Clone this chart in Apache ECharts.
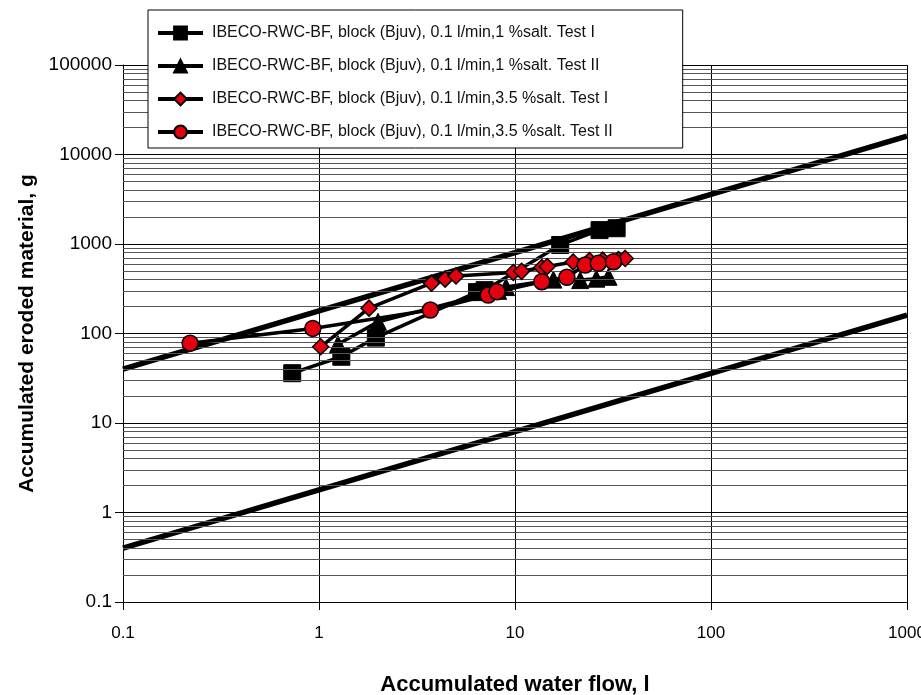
<!DOCTYPE html>
<html>
<head>
<meta charset="utf-8">
<script src="https://cdn.jsdelivr.net/npm/echarts@6/dist/echarts.min.js"></script>
<style>
  html, body { margin: 0; padding: 0; background: #fff; }
  #chart { width: 921px; height: 695px; }
</style>
</head>
<body>
<div id="chart"></div>
<script>
// Series names
const names = [
  'IBECO-RWC-BF, block (Bjuv), 0.1 l/min,1 %salt. Test I',
  'IBECO-RWC-BF, block (Bjuv), 0.1 l/min,1 %salt. Test II',
  'IBECO-RWC-BF, block (Bjuv), 0.1 l/min,3.5 %salt. Test I',
  'IBECO-RWC-BF, block (Bjuv), 0.1 l/min,3.5 %salt. Test II'
];

// 1 % salt, Test I (accumulated water flow l, eroded material g)
const flow1I = [0.73, 1.3, 1.95, 6.4, 7.0, 17, 27, 33];
const mass1I = [36, 55, 90, 290, 305, 975, 1430, 1500];

// 1 % salt, Test II
const flow1II = [1.25, 2.0, 8.2, 9.0, 15.7, 21.5, 26, 30];
const mass1II = [76, 135, 300, 330, 400, 395, 410, 430];

// 3.5 % salt, Test I
const flow35I = [1.02, 1.8, 3.75, 4.4, 5.0, 9.8, 10.8, 13.7, 14.6, 19.8, 24, 28, 33.7, 36.5];
const mass35I = [71, 192, 365, 405, 440, 480, 495, 545, 560, 630, 655, 660, 670, 690];

// 3.5 % salt, Test II
const flow35II = [0.22, 0.93, 3.7, 7.3, 8.1, 13.7, 18.4, 22.8, 26.6, 31.8];
const mass35II = [78, 114, 183, 269, 293, 379, 425, 582, 608, 634];

// Boundary lines (end points)
const boundFlow = [0.1, 1000];
const upperMass = [40, 16000];
const lowerMass = [0.4, 160];

// Axis ranges / tick values
const xMin = 0.1, xMax = 1000;
const yMin = 0.1, yMax = 100000;
const yDecades = [0.1, 1, 10, 100, 1000, 10000, 100000];

const pairs = (xs, ys) => xs.map((x, i) => [x, ys[i]]);

// Minor grid values 2..9 within each decade
const minorValues = [];
for (let d = 0; d < yDecades.length - 1; d++) {
  for (let m = 2; m <= 9; m++) minorValues.push(+(yDecades[d] * m).toPrecision(6));
}

const FONT = '"Liberation Sans", Arial, sans-serif';
const RED = '#e3000f';

const chart = echarts.init(document.getElementById('chart'), null, { renderer: 'canvas' });

const lineStyle = { color: '#000', width: 3.5 };

chart.setOption({
  animation: false,
  backgroundColor: '#fff',
  textStyle: { fontFamily: FONT },
  grid: { left: 123, right: 14, top: 65, bottom: 93, containLabel: false, outerBoundsMode: 'none' },
  legend: {
    data: names,
    orient: 'vertical',
    left: 148,
    top: 10,
    z: 20,
    backgroundColor: '#fff',
    borderColor: '#000',
    borderWidth: 1,
    borderRadius: 0,
    padding: [15, 70, 8, 8],
    itemWidth: 45,
    itemHeight: 16,
    itemGap: 17,
    lineStyle: { width: 4, color: '#000' },
    textStyle: { fontFamily: FONT, fontSize: 16, color: '#111', padding: [0, 0, 0, 4] }
  },
  xAxis: {
    type: 'log',
    logBase: 10,
    min: xMin,
    max: xMax,
    name: 'Accumulated water flow, l',
    nameLocation: 'middle',
    nameGap: 72,
    nameTextStyle: { fontFamily: FONT, fontSize: 22, fontWeight: 'bold', color: '#000' },
    axisLine: { show: true, lineStyle: { color: '#000', width: 1 } },
    axisTick: { show: true, length: 8, lineStyle: { color: '#000' } },
    axisLabel: { fontFamily: FONT, fontSize: 17, color: '#000', margin: 23,
      formatter: v => String(v) },
    splitLine: { show: true, lineStyle: { color: '#000', width: 1 } }
  },
  yAxis: {
    type: 'log',
    logBase: 10,
    min: yMin,
    max: yMax,
    name: 'Accumulated eroded material, g',
    nameLocation: 'middle',
    nameGap: 77,
    nameTextStyle: { fontFamily: FONT, fontSize: 21, fontWeight: 'bold', color: '#000' },
    axisLine: { show: true, lineStyle: { color: '#000', width: 1 } },
    axisTick: { show: true, length: 8, lineStyle: { color: '#000' } },
    axisLabel: { fontFamily: FONT, fontSize: 19, color: '#000', margin: 11,
      formatter: v => String(v) },
    splitLine: { show: true, lineStyle: { color: '#000', width: 1 } }
  },
  series: [
    {
      // minor horizontal grid lines
      type: 'line',
      data: [],
      silent: true,
      z: 1,
      markLine: {
        silent: true,
        symbol: ['none', 'none'],
        label: { show: false },
        lineStyle: { color: '#555', width: 1, type: 'solid' },
        data: minorValues.map(v => ({ yAxis: v }))
      }
    },
    {
      type: 'line',
      data: pairs(boundFlow, upperMass),
      symbol: 'none',
      silent: true,
      z: 3,
      lineStyle: { color: '#000', width: 5.5 }
    },
    {
      type: 'line',
      data: pairs(boundFlow, lowerMass),
      symbol: 'none',
      silent: true,
      z: 3,
      lineStyle: { color: '#000', width: 5.5 }
    },
    {
      name: names[0],
      type: 'line',
      data: pairs(flow1I, mass1I),
      symbol: 'rect',
      symbolSize: 17,
      z: 4,
      lineStyle: lineStyle,
      itemStyle: { color: '#000', borderColor: '#000', borderWidth: 1 }
    },
    {
      name: names[1],
      type: 'line',
      data: pairs(flow1II, mass1II),
      symbol: 'triangle',
      symbolSize: 17,
      z: 4,
      lineStyle: lineStyle,
      itemStyle: { color: '#000', borderColor: '#000', borderWidth: 1 }
    },
    {
      name: names[2],
      type: 'line',
      data: pairs(flow35I, mass35I),
      symbol: 'diamond',
      symbolSize: 16,
      z: 5,
      lineStyle: lineStyle,
      itemStyle: { color: RED, borderColor: '#000', borderWidth: 1.5 }
    },
    {
      name: names[3],
      type: 'line',
      data: pairs(flow35II, mass35II),
      symbol: 'circle',
      symbolSize: 16,
      z: 5,
      lineStyle: lineStyle,
      itemStyle: { color: RED, borderColor: '#000', borderWidth: 1.5 }
    }
  ]
});
</script>
</body>
</html>
